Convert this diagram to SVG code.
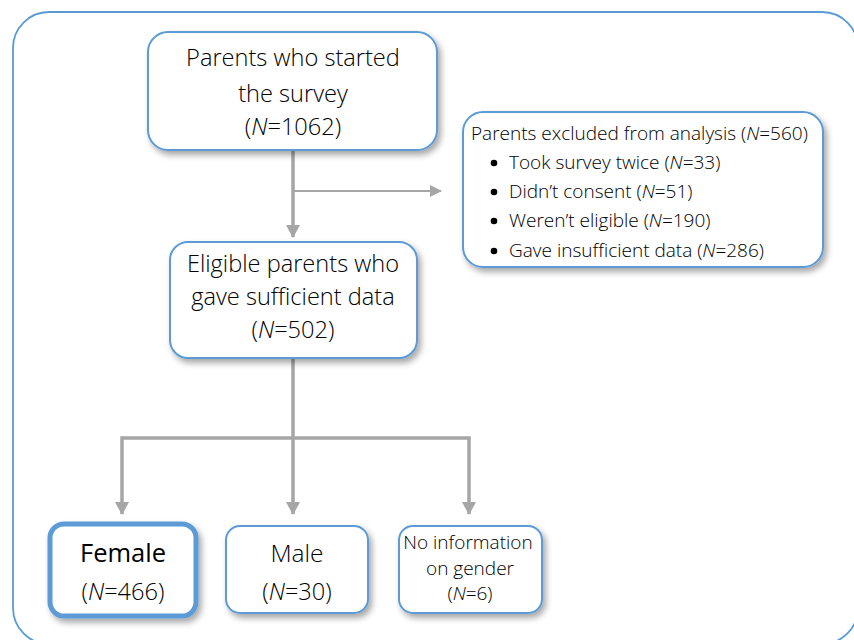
<svg xmlns="http://www.w3.org/2000/svg" width="854" height="640" viewBox="0 0 854 640">
<style>
.box{fill:#fff;stroke:#5B9BD5;stroke-width:2;filter:url(#sh)}
.thick{stroke-width:5}
.t{font-family:"Open Sans","Liberation Sans",sans-serif;fill:#000;text-anchor:middle;font-weight:300}
.big{font-size:23.6px}
.sm{font-size:19px;text-anchor:start}
.ln{stroke:#A6A6A6;fill:none}
.i{font-style:italic}
</style>
<defs>
<filter id="sh" x="-10%" y="-10%" width="130%" height="140%">
<feDropShadow dx="3" dy="4" stdDeviation="3" flood-color="#000" flood-opacity="0.35"/>
</filter>
<marker id="ah" markerUnits="userSpaceOnUse" markerWidth="14" markerHeight="14" viewBox="0 0 14 14" refX="12" refY="7" orient="auto">
<path d="M0,0 L13,7 L0,14 Z" fill="#A6A6A6"/>
</marker>
<marker id="ahs" markerUnits="userSpaceOnUse" markerWidth="12" markerHeight="12" viewBox="0 0 12 12" refX="11" refY="6" orient="auto">
<path d="M0,0 L12,6 L0,12 Z" fill="#A6A6A6"/>
</marker>
</defs>
<rect x="13" y="12" width="845" height="632" rx="36" fill="none" stroke="#5B9BD5" stroke-width="1.8"/>
<g id="connectors">
<line class="ln" x1="293" y1="150" x2="293" y2="237" stroke-width="3.5" marker-end="url(#ah)"/>
<line class="ln" x1="293" y1="191" x2="441" y2="191" stroke-width="2" marker-end="url(#ahs)"/>
<line class="ln" x1="293" y1="358" x2="293" y2="438" stroke-width="3.5"/>
<polyline class="ln" points="122,438 469,438 469,514" stroke-width="3.5" marker-end="url(#ah)"/>
<line class="ln" x1="122" y1="436.25" x2="122" y2="514" stroke-width="3.5" marker-end="url(#ah)"/>
<line class="ln" x1="293" y1="438" x2="293" y2="514" stroke-width="3.5" marker-end="url(#ah)"/>
</g>
<g id="started">
<rect class="box" x="148" y="32" width="289" height="118" rx="20"/>
<text class="t big" x="293" y="66">Parents who started</text>
<text class="t big" x="293" y="102">the survey</text>
<text class="t big" x="293" y="135">(<tspan class="i">N</tspan>=1062)</text>
</g>
<g id="excluded">
<rect class="box" x="463" y="112" width="360" height="155" rx="20"/>
<text class="t sm" x="471" y="140">Parents excluded from analysis (<tspan class="i">N</tspan>=560)</text>
<circle cx="494" cy="163" r="3.3" fill="#000"/>
<text class="t sm" x="509" y="169">Took survey twice (<tspan class="i">N</tspan>=33)</text>
<circle cx="494" cy="192" r="3.3" fill="#000"/>
<text class="t sm" x="509" y="198">Didn’t consent (<tspan class="i">N</tspan>=51)</text>
<circle cx="494" cy="221" r="3.3" fill="#000"/>
<text class="t sm" x="509" y="227">Weren’t eligible (<tspan class="i">N</tspan>=190)</text>
<circle cx="494" cy="251" r="3.3" fill="#000"/>
<text class="t sm" x="509" y="257">Gave insufficient data (<tspan class="i">N</tspan>=286)</text>
</g>
<g id="eligible">
<rect class="box" x="170" y="242" width="247" height="116" rx="18"/>
<text class="t big" x="293" y="272">Eligible parents who</text>
<text class="t big" x="293" y="305">gave sufficient data</text>
<text class="t big" x="293" y="338">(<tspan class="i">N</tspan>=502)</text>
</g>
<g id="female">
<rect class="box thick" x="50" y="524" width="146" height="92" rx="14"/>
<text class="t" x="123" y="562" font-size="25.5" style="font-weight:400">Female</text>
<text class="t big" x="123" y="600">(<tspan class="i">N</tspan>=466)</text>
</g>
<g id="male">
<rect class="box" x="226" y="526" width="142" height="87" rx="14"/>
<text class="t" x="297" y="562" font-size="24.5">Male</text>
<text class="t big" x="297" y="600">(<tspan class="i">N</tspan>=30)</text>
</g>
<g id="noinfo">
<rect class="box" x="399" y="526" width="143" height="87" rx="14"/>
<text class="t" x="468" y="549" font-size="19">No information</text>
<text class="t" x="470" y="575" font-size="19">on gender</text>
<text class="t" x="470" y="600" font-size="19">(<tspan class="i">N</tspan>=6)</text>
</g>
</svg>
